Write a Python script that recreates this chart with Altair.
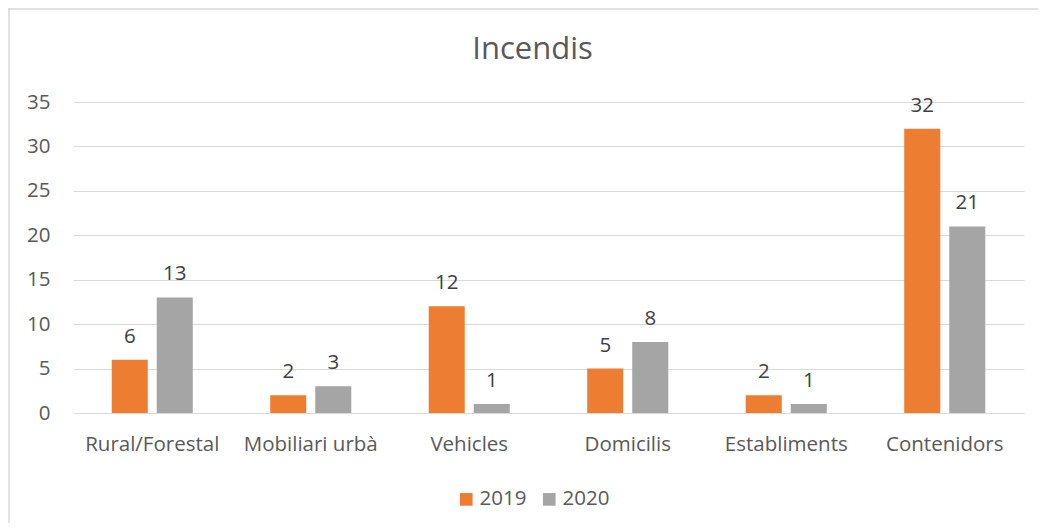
import altair as alt
import pandas as pd

categories = ["Rural/Forestal", "Mobiliari urbà", "Vehicles", "Domicilis", "Establiments", "Contenidors"]
years = ["2019", "2020"]
values_2019 = [6, 2, 12, 5, 2, 32]
values_2020 = [13, 3, 1, 8, 1, 21]
colors = ["#ED7D31", "#A5A5A5"]

rows = []
for c, a, b in zip(categories, values_2019, values_2020):
    rows.append({"cat": c, "year": "2019", "value": a})
    rows.append({"cat": c, "year": "2020", "value": b})
df = pd.DataFrame(rows)

FONT = "Open Sans"
TXT = "#595959"
FS = 20.5

x = alt.X("cat:N", sort=categories, title=None,
          scale=alt.Scale(paddingInner=0, paddingOuter=0),
          axis=alt.Axis(labelAngle=0, ticks=False, domain=True, domainColor="#D9D9D9",
                        labelFontSize=FS, labelColor=TXT, labelFont=FONT, labelPadding=21,
                        grid=False))
xo = alt.XOffset("year:N", sort=years,
                 scale=alt.Scale(paddingInner=0.2, paddingOuter=0.86))

base = alt.Chart(df).encode(x=x, xOffset=xo)

bars = base.mark_bar().encode(
    y=alt.Y("value:Q", title=None,
            scale=alt.Scale(domain=[0, 35]),
            axis=alt.Axis(values=[0, 5, 10, 15, 20, 25, 30, 35], ticks=False, domain=False,
                          gridColor="#D9D9D9", gridWidth=1,
                          labelFontSize=FS, labelColor=TXT, labelFont=FONT, labelPadding=23)),
    color=alt.Color("year:N", sort=years,
                    scale=alt.Scale(domain=years, range=colors),
                    legend=alt.Legend(title=None, orient="none", direction="horizontal",
                                      legendX=383, legendY=387, symbolType="square",
                                      symbolSize=160, symbolStrokeWidth=0,
                                      labelFontSize=FS, labelColor=TXT, labelFont=FONT,
                                      columnPadding=12, labelOffset=3)),
)

labels = base.mark_text(dy=-17, baseline="alphabetic", fontSize=FS, color="#404040", font=FONT).encode(
    y=alt.Y("value:Q"),
    text=alt.Text("value:Q"),
)

frame = pd.DataFrame({"a": [0]})
top_line = alt.Chart(frame).mark_rule(stroke="#D9D9D9", strokeWidth=1.5).encode(
    x=alt.value(-65), x2=alt.value(970), y=alt.value(-93)
)
left_line = alt.Chart(frame).mark_rule(stroke="#D9D9D9", strokeWidth=1.5).encode(
    x=alt.value(-64), y=alt.value(-94), y2=alt.value(430)
)

chart = alt.layer(top_line, left_line, bars, labels).properties(
    width=951, height=311,
    title=alt.TitleParams("Incendis", fontSize=31, font=FONT, color=TXT, fontWeight="normal",
                          anchor="middle", offset=-59, dx=-16),
    autosize=alt.AutoSizeParams(type="none"),
    padding={"left": 65, "top": 94, "right": 14, "bottom": 110},
).configure_view(stroke=None)

chart.save("out.html", embed_options={"renderer": "svg", "actions": False})
